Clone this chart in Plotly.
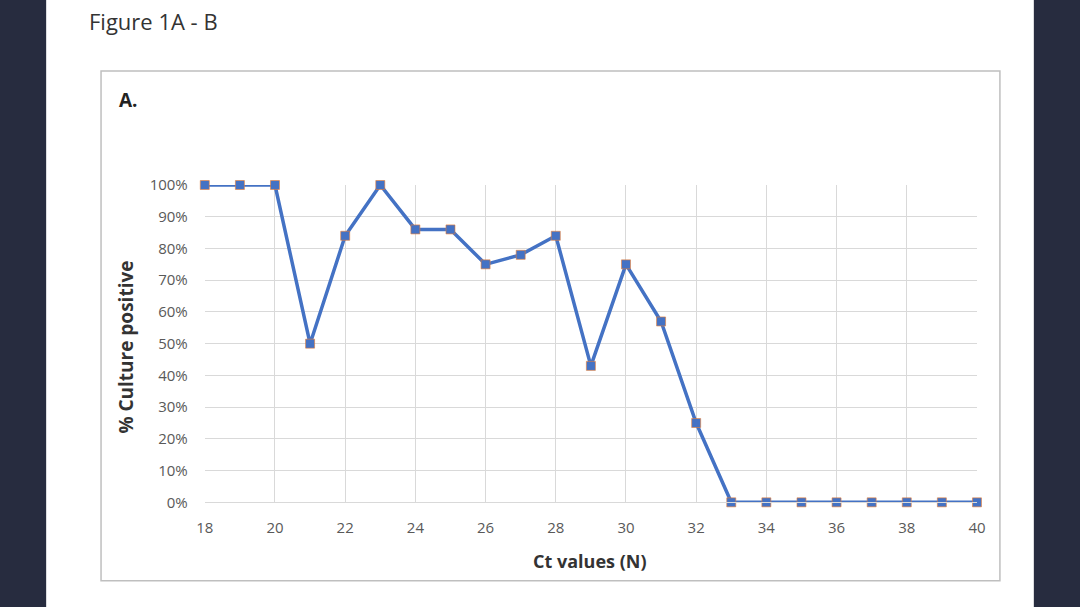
import plotly.graph_objects as go

ct_values = list(range(18, 41))
pct_positive = [100, 100, 100, 50, 84, 100, 86, 86, 75, 78, 84, 43, 75, 57, 25,
                0, 0, 0, 0, 0, 0, 0, 0]
x_ticks = list(range(18, 41, 2))
y_ticks = list(range(0, 101, 10))
y_tick_labels = [f"{v}%" for v in y_ticks]

W, H = 1080, 607
M = 8  # figure margin on every side
# the photo shows the page with an 8px offset, squeezed back to 1080x607
SX, SY = (W + 16) / W, (H + 16) / H


def px_x(v):
    return (v * SX - 8 - M) / (W - 2 * M)


def px_y(v):
    return 1 - (v * SY - 8 - M) / (H - 2 * M)


NAVY = "#272C3F"

fig = go.Figure()
fig.add_trace(go.Scatter(
    x=ct_values, y=pct_positive, mode="lines+markers",
    line=dict(color="#4472C4", width=3.5),
    marker=dict(symbol="square", size=9, color="#4472C4",
                line=dict(color="#ED7D31", width=0.6)),
    cliponaxis=False, showlegend=False,
))

font_family = "Open Sans, Liberation Sans, sans-serif"
axis_font = dict(family=font_family, size=15, color="#595959")
fig.update_layout(
    width=W, height=H,
    margin=dict(l=M, r=M, t=M, b=M, pad=0),
    paper_bgcolor="white",
    plot_bgcolor="white",
    xaxis=dict(domain=[px_x(204), px_x(978)], range=[18, 40],
               tickvals=x_ticks, showgrid=True, gridcolor="#D9D9D9",
               gridwidth=1, zeroline=False, showline=True, linecolor="#D9D9D9",
               ticks="", tickfont=axis_font, ticklabelstandoff=12),
    yaxis=dict(domain=[px_y(503), px_y(183)], range=[0, 100],
               tickvals=y_ticks, ticktext=y_tick_labels, showgrid=True,
               gridcolor="#D9D9D9", gridwidth=1, zeroline=False,
               showline=False, ticks="", tickfont=axis_font, ticklabelstandoff=16),
)

# dark side bands, page and chart frame
fig.add_shape(type="rect", xref="paper", yref="paper", layer="below",
              x0=px_x(-30), x1=px_x(45), y0=px_y(660), y1=px_y(-40),
              fillcolor=NAVY, line=dict(width=0))
fig.add_shape(type="rect", xref="paper", yref="paper", layer="below",
              x0=px_x(1035), x1=px_x(1120), y0=px_y(660), y1=px_y(-40),
              fillcolor=NAVY, line=dict(width=0))
fig.add_shape(type="rect", xref="paper", yref="paper", layer="below",
              x0=px_x(100), x1=px_x(1001), y0=px_y(582), y1=px_y(68),
              fillcolor="white", line=dict(color="#BFBFBF", width=1.5))

fig.add_annotation(text="Figure 1A - B", xref="paper", yref="paper",
                   x=px_x(86), y=px_y(18), xanchor="left", yanchor="middle",
                   showarrow=False,
                   font=dict(family=font_family, size=22, color="#333333"))
fig.add_annotation(text="<b>A.</b>", xref="paper", yref="paper",
                   x=px_x(116), y=px_y(97), xanchor="left", yanchor="middle",
                   showarrow=False,
                   font=dict(family=font_family, size=19, color="#222222"))
fig.add_annotation(text="<b>% Culture positive</b>", xref="paper", yref="paper",
                   x=px_x(125), y=px_y(346), textangle=-90, showarrow=False,
                   xanchor="center", yanchor="middle",
                   font=dict(family=font_family, size=19, color="#333333"))
fig.add_annotation(text="<b>Ct values (N)</b>", xref="paper", yref="paper",
                   x=px_x(590), y=px_y(562), showarrow=False,
                   xanchor="center", yanchor="middle",
                   font=dict(family=font_family, size=18, color="#333333"))

page_bg = ("linear-gradient(to right, %s 0px, %s 37px, "
           "white 37px, white 1042px, %s 1042px)" % (NAVY, NAVY, NAVY))
fig.write_html("out.html", config={"displayModeBar": False},
               post_script="document.body.style.margin='0';"
                           "document.body.style.overflow='hidden';"
                           "document.body.style.background='%s';" % page_bg)
